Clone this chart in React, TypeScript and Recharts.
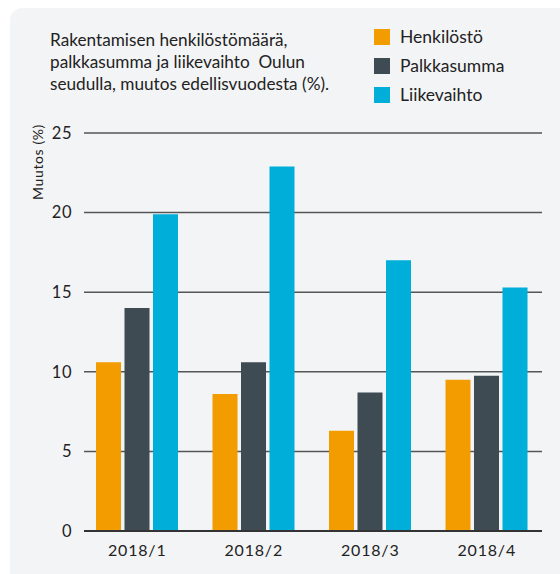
import React from "react";
import { BarChart, Bar, XAxis, YAxis, CartesianGrid, Label } from "recharts";

const categories = ["2018/1", "2018/2", "2018/3", "2018/4"];
const henkilosto = [10.6, 8.6, 6.3, 9.5];
const palkkasumma = [14.0, 10.6, 8.7, 9.75];
const liikevaihto = [19.9, 22.9, 17.0, 15.3];
const yTicks = [0, 5, 10, 15, 20, 25];

const seriesInfo = [
  { key: "henkilosto", name: "Henkilöstö", color: "#F39C00" },
  { key: "palkkasumma", name: "Palkkasumma", color: "#3E4B52" },
  { key: "liikevaihto", name: "Liikevaihto", color: "#00AEDA" },
];

const data = categories.map((c, i) => ({
  cat: c,
  henkilosto: henkilosto[i],
  palkkasumma: palkkasumma[i],
  liikevaihto: liikevaihto[i],
}));

const FONT = "Lato, 'Open Sans', sans-serif";

const LegendContent = () => (
  <div style={{ fontFamily: FONT }}>
    {seriesInfo.map((s) => (
      <div key={s.key} style={{ display: "flex", alignItems: "center", height: 29 }}>
        <div style={{ width: 16, height: 16, background: s.color, marginRight: 10 }} />
        <span style={{ fontSize: 17.5, color: "#222" }}>{s.name}</span>
      </div>
    ))}
  </div>
);

export default function App() {
  return (
    <div style={{ position: "absolute", left: 0, top: 0, width: 560, height: 574, background: "#fff", overflow: "hidden" }}>
      <div
        style={{
          position: "absolute",
          left: 10,
          top: 8,
          width: 560,
          height: 580,
          background: "#F3F4F6",
          borderRadius: 12,
        }}
      />
      <div
        style={{
          position: "absolute",
          left: 50,
          top: 29,
          fontFamily: FONT,
          fontSize: 17.2,
          lineHeight: "22px",
          color: "#222",
          whiteSpace: "pre",
        }}
      >
        {"Rakentamisen henkilöstömäärä,\npalkkasumma ja liikevaihto  Oulun\nseudulla, muutos edellisvuodesta (%)."}
      </div>
      <div style={{ position: "absolute", left: 374, top: 22 }}>
        <LegendContent />
      </div>
      <div style={{ position: "absolute", left: 0, top: 0 }}>
        <BarChart
          width={560}
          height={574}
          data={data}
          margin={{ top: 133, right: 18, bottom: 0, left: 0 }}
          barSize={25}
          barGap={3.5}
        >
          <CartesianGrid vertical={false} stroke="#555" strokeWidth={1.5} />
          <XAxis
            dataKey="cat"
            height={43}
            padding={{ left: -5, right: -3 }}
            tickLine={false}
            axisLine={{ stroke: "#333", strokeWidth: 2 }}
            tickMargin={8}
            tick={{ fill: "#222", fontSize: 16, fontFamily: FONT, letterSpacing: 0.8 }}
          />
          <YAxis
            width={84}
            domain={[0, 25]}
            ticks={yTicks}
            axisLine={false}
            tickLine={false}
            tickMargin={6}
            tick={{ fill: "#222", fontSize: 16.5, fontFamily: FONT, letterSpacing: 0.5 }}
          >
            <Label
              content={() => (
                <text
                  x={37}
                  y={162}
                  transform="rotate(-90 37 162)"
                  textAnchor="middle"
                  dominantBaseline="central"
                  fontSize={14}
                  fontFamily={FONT}
                  fill="#222"
                  letterSpacing={0.6}
                >
                  Muutos  (%)
                </text>
              )}
            />
          </YAxis>
          {seriesInfo.map((s) => (
            <Bar key={s.key} dataKey={s.key} name={s.name} fill={s.color} isAnimationActive={false} />
          ))}
        </BarChart>
      </div>
    </div>
  );
}
